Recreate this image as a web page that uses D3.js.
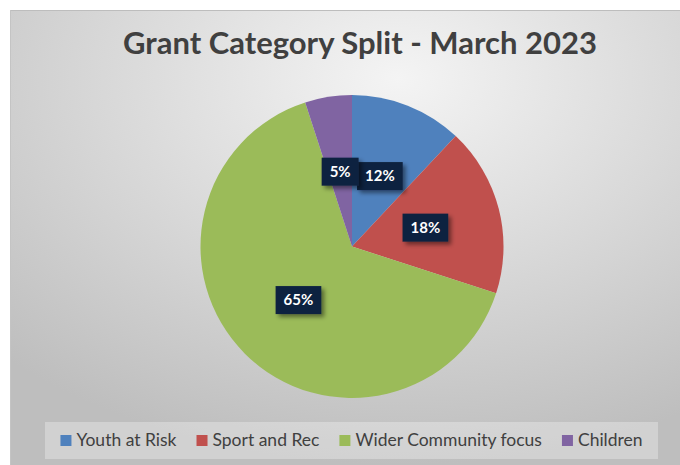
<!DOCTYPE html>
<html>
<head>
<meta charset="utf-8">
<script src="https://d3js.org/d3.v7.min.js"></script>
<style>
  body { margin: 0; background: #fff; }
  svg { display: block; }
</style>
</head>
<body>
<svg id="chart"></svg>
<script>
// Grant category split, pie chart
var categories = ["Youth at Risk", "Sport and Rec", "Wider Community focus", "Children"]
var shares = [12, 18, 65, 5]
var colors = ["#4F81BD", "#C0504D", "#9BBB59", "#8064A2"]
var title = "Grant Category Split - March 2023"

var dimensions = {
    width: 680,
    height: 465,
    radius: 151.5,
    cx: 352,
    cy: 246.5
}

var svg = d3.select("#chart")
    .attr("width", dimensions.width)
    .attr("height", dimensions.height)

var defs = svg.append("defs")
var grad = defs.append("radialGradient")
    .attr("id", "bg")
    .attr("cx", "58%").attr("cy", "15%").attr("r", "85%")
grad.append("stop").attr("offset", "0%").attr("stop-color", "#f4f4f4")
grad.append("stop").attr("offset", "100%").attr("stop-color", "#bebebe")

var shadow = defs.append("filter")
    .attr("id", "shadow")
    .attr("x", "-30%").attr("y", "-30%").attr("width", "170%").attr("height", "170%")
shadow.append("feDropShadow")
    .attr("dx", 3).attr("dy", 3)
    .attr("stdDeviation", 2)
    .attr("flood-color", "#000")
    .attr("flood-opacity", 0.45)

// chart area
svg.append("rect")
    .attr("x", 10).attr("y", 10)
    .attr("width", dimensions.width - 10)
    .attr("height", dimensions.height - 10)
    .attr("fill", "url(#bg)")
svg.append("line")
    .attr("x1", 10).attr("x2", dimensions.width)
    .attr("y1", 10.5).attr("y2", 10.5)
    .attr("stroke", "#bdbdbd")
svg.append("line")
    .attr("x1", 10.5).attr("x2", 10.5)
    .attr("y1", 10).attr("y2", dimensions.height)
    .attr("stroke", "#c4c4c4")

svg.append("text")
    .attr("x", 360)
    .attr("y", 54)
    .attr("text-anchor", "middle")
    .style("font-family", "Lato, 'Open Sans', sans-serif")
    .style("font-weight", "bold")
    .style("font-size", "31px")
    .style("fill", "#404040")
    .text(title)

var data = categories.map((c, i) => ({ name: c, value: shares[i], color: colors[i] }))

var pie = d3.pie()
    .value(d => d.value)
    .sort(null)

var arc = d3.arc()
    .innerRadius(0)
    .outerRadius(dimensions.radius)

var g = svg.append("g")
    .attr("transform", `translate(${dimensions.cx},${dimensions.cy})`)

var arcs = pie(data)

g.selectAll("path")
    .data(arcs)
    .enter()
    .append("path")
    .attr("d", arc)
    .attr("fill", d => d.data.color)

// data labels
var labels = g.selectAll("g.lbl")
    .data(arcs)
    .enter()
    .append("g")
    .attr("class", "lbl")
    .attr("transform", d => `translate(${arc.centroid(d)})`)

labels.append("rect")
    .attr("filter", "url(#shadow)")
    .attr("fill", "#112441")

labels.append("text")
    .attr("text-anchor", "middle")
    .attr("dy", "0.36em")
    .style("font-family", "Lato, 'Open Sans', sans-serif")
    .style("font-weight", "bold")
    .style("font-size", "15px")
    .style("fill", "#ffffff")
    .text(d => d.data.value + "%")

labels.each(function () {
    var t = d3.select(this).select("text").node().getComputedTextLength()
    d3.select(this).select("rect")
        .attr("x", -t / 2 - 8)
        .attr("y", -14)
        .attr("width", t + 16)
        .attr("height", 28)
})

// legend
var legendBox = { x: 45, y: 422, w: 613, h: 37 }
svg.append("rect")
    .attr("x", legendBox.x).attr("y", legendBox.y)
    .attr("width", legendBox.w).attr("height", legendBox.h)
    .attr("fill", "#ffffff")
    .attr("fill-opacity", 0.3)

var legend = svg.append("g")
var items = legend.selectAll("g")
    .data(data)
    .enter()
    .append("g")

items.append("rect")
    .attr("width", 11).attr("height", 11)
    .attr("y", -11)
    .attr("fill", d => d.color)

items.append("text")
    .attr("x", 16)
    .attr("y", 0)
    .style("font-family", "Lato, 'Open Sans', sans-serif")
    .style("font-size", "17.5px")
    .style("fill", "#404040")
    .text(d => d.name)

var pos = 0
var offsets = []
items.each(function () {
    var w = d3.select(this).select("text").node().getComputedTextLength()
    offsets.push(pos)
    pos += 16 + w + 20
})
var total = pos - 20
var startX = legendBox.x + (legendBox.w - total) / 2
items.attr("transform", (d, i) => `translate(${startX + offsets[i]},${446})`)
</script>
</body>
</html>
